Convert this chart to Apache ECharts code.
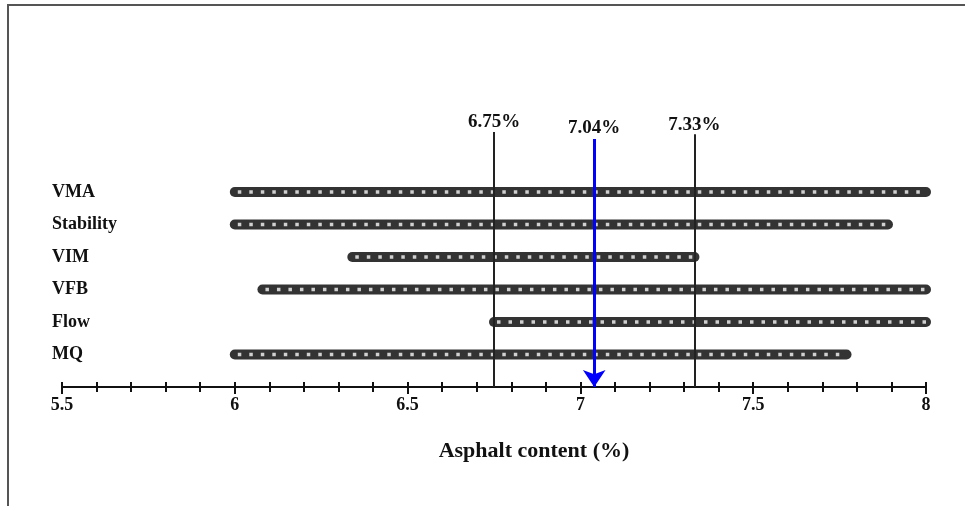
<!DOCTYPE html>
<html>
<head>
<meta charset="utf-8">
<script src="https://cdn.jsdelivr.net/npm/echarts@6/dist/echarts.min.js"></script>
<style>
  html, body { margin: 0; padding: 0; background: #fff; }
  #chart { width: 965px; height: 506px; }
</style>
</head>
<body>
<div id="chart"></div>
<script>
// criteria, top to bottom, with the asphalt content range each one accepts
var criteria = ['VMA', 'Stability', 'VIM', 'VFB', 'Flow', 'MQ']
var rangeLow = [6.0, 6.0, 6.34, 6.08, 6.75, 6.0]
var rangeHigh = [8.0, 7.89, 7.33, 8.0, 8.0, 7.77]

// common range limits and the chosen optimum
var limits = [6.75, 7.33]
var optimum = 7.04

var xMin = 5.5
var xMax = 8
var xStep = 0.5

var serifFont = '"Liberation Serif", "DejaVu Serif", serif'
var chart = echarts.init(document.getElementById('chart'))

function rowY (i) {
  return criteria.length - i
}

var series = []
for (var i = 0; i < criteria.length; i++) {
  var pts = [[rangeLow[i], rowY(i)], [rangeHigh[i], rowY(i)]]
  series.push({
    type: 'line',
    silent: true,
    symbol: 'none',
    z: 2,
    lineStyle: { color: '#333', width: 10, cap: 'round' },
    data: pts
  })
  series.push({
    type: 'line',
    silent: true,
    symbol: 'none',
    z: 3,
    lineStyle: { color: '#d0d0d0', width: 3.5, type: [3.5, 8], dashOffset: -3, cap: 'butt' },
    data: pts
  })
}

var markData = limits.map(function (v, k) {
  return [
    { coord: [v, 0], name: v.toFixed(2) + '%' },
    { coord: [v, k === 0 ? 7.85 : 7.78] }
  ]
})
markData.push([
  {
    coord: [optimum, 7.63],
    name: optimum.toFixed(2) + '%',
    lineStyle: { color: '#0000ff', width: 3 },
    symbol: 'none',
    label: { position: 'start', distance: 1 }
  },
  { coord: [optimum, 0], symbol: 'arrow', symbolSize: 17 }
])

series.push({
  type: 'line',
  data: [],
  z: 5,
  markLine: {
    silent: true,
    animation: false,
    symbol: 'none',
    lineStyle: { color: '#222', width: 2, type: 'solid' },
    label: {
      show: true,
      position: 'end',
      distance: 0,
      formatter: '{b}',
      color: '#111',
      fontFamily: serifFont,
      fontWeight: 'bold',
      fontSize: 19
    },
    emphasis: { disabled: true },
    data: markData
  }
})

var option = {
  animation: false,
  backgroundColor: '#fff',
  grid: { left: 62, right: 39, top: 127, bottom: 119 },
  graphic: [{
    type: 'rect',
    shape: { x: 8, y: 5, width: 1200, height: 800 },
    style: { fill: 'none', stroke: '#555', lineWidth: 2 },
    silent: true
  }],
  xAxis: [{
    type: 'value',
    min: xMin,
    max: xMax,
    interval: xStep,
    position: 'bottom',
    name: 'Asphalt content (%)',
    nameLocation: 'middle',
    nameGap: 53,
    nameTextStyle: {
      color: '#111',
      fontFamily: serifFont,
      fontWeight: 'bold',
      fontSize: 22,
      padding: [0, 0, 0, 80]
    },
    axisLine: { show: true, lineStyle: { color: '#111', width: 2 } },
    axisTick: { show: true, length: 7, lineStyle: { color: '#111', width: 2 } },
    minorTick: { show: true, splitNumber: 5, length: 5, lineStyle: { color: '#111', width: 2 } },
    axisLabel: {
      margin: 9,
      color: '#111',
      fontFamily: serifFont,
      fontWeight: 'bold',
      fontSize: 18
    },
    splitLine: { show: false }
  }, {
    type: 'value',
    min: xMin,
    max: xMax,
    interval: xStep,
    position: 'bottom',
    axisLine: { show: false },
    axisTick: { show: true, inside: true, length: 5, lineStyle: { color: '#111', width: 2 } },
    minorTick: { show: true, splitNumber: 5, length: 5, lineStyle: { color: '#111', width: 2 } },
    axisLabel: { show: false },
    splitLine: { show: false }
  }],
  yAxis: {
    type: 'value',
    min: 0,
    max: 8,
    interval: 1,
    axisLine: { show: false },
    axisTick: { show: false },
    splitLine: { show: false },
    axisLabel: {
      align: 'left',
      margin: 10,
      color: '#111',
      fontFamily: serifFont,
      fontWeight: 'bold',
      fontSize: 18,
      formatter: function (v) {
        return (v >= 1 && v <= criteria.length) ? criteria[criteria.length - v] : ''
      }
    }
  },
  series: series
}

chart.setOption(option)
</script>
</body>
</html>
